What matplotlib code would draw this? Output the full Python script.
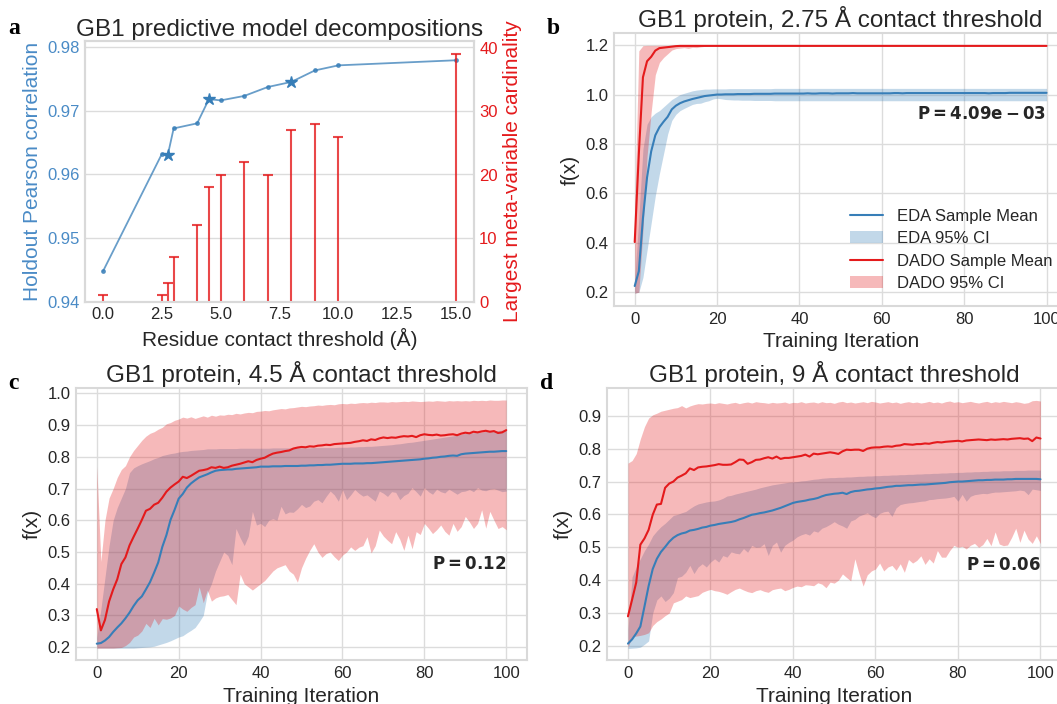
import matplotlib
matplotlib.use('Agg')
import matplotlib.pyplot as plt
import numpy as np
from matplotlib.lines import Line2D
from matplotlib.patches import Patch

plt.style.use('seaborn-v0_8-whitegrid')
plt.rcParams['font.family'] = ['Liberation Sans', 'DejaVu Sans']
plt.rcParams['text.color'] = '.15'
plt.rcParams['axes.labelcolor'] = '.15'
plt.rcParams['xtick.color'] = '.15'
plt.rcParams['ytick.color'] = '.15'

BLUE = '#377eb8'
RED = '#e41a1c'

# ---- panel a: model decompositions ----
thresholds = [0.0, 2.5, 2.75, 3.0, 4.0, 4.5, 5.0, 6.0, 7.0, 8.0, 9.0, 10.0, 15.0]
pearson = [0.9448, 0.9632, 0.9630, 0.9672, 0.9680, 0.9718, 0.9716, 0.9723,
           0.9737, 0.9745, 0.9763, 0.9771, 0.9779]
cardinality = [1, 1, 3, 7, 12, 18, 20, 22, 20, 27, 28, 26, 39]
starred = [2.75, 4.5, 8.0]

# ---- panel b: 2.75 A ----
b_eda_mean = [0.225, 0.285, 0.500, 0.665, 0.770, 0.835, 0.868, 0.890, 0.910, 0.940,
              0.955, 0.965, 0.972, 0.977, 0.982, 0.986, 0.990, 0.994, 0.996, 0.998,
              1.000, 1.000, 1.001, 1.001, 1.001, 1.002, 1.002, 1.002, 1.002, 1.003,
              1.003, 1.003, 1.003, 1.003, 1.004, 1.004, 1.004, 1.004, 1.004, 1.004,
              1.004, 1.004, 1.005, 1.004, 1.004, 1.005, 1.005, 1.005, 1.004, 1.005,
              1.005, 1.005, 1.005, 1.006, 1.005, 1.005, 1.005, 1.005, 1.005, 1.005,
              1.005, 1.005, 1.005, 1.006, 1.006, 1.005, 1.006, 1.006, 1.006, 1.006,
              1.006, 1.006, 1.006, 1.006, 1.006, 1.006, 1.006, 1.006, 1.006, 1.006,
              1.006, 1.006, 1.006, 1.006, 1.006, 1.006, 1.005, 1.006, 1.006, 1.006,
              1.006, 1.007, 1.007, 1.007, 1.007, 1.007, 1.007, 1.007, 1.007, 1.007, 1.007]
b_eda_low = [0.196, 0.200, 0.260, 0.370, 0.480, 0.590, 0.680, 0.760, 0.840, 0.895,
             0.920, 0.935, 0.944, 0.952, 0.960, 0.964, 0.965, 0.971, 0.975, 0.982,
             0.985, 0.983, 0.980, 0.979, 0.978, 0.978, 0.977, 0.977, 0.977, 0.976,
             0.976, 0.976, 0.976, 0.976, 0.975, 0.975, 0.975, 0.975, 0.975, 0.975,
             0.975, 0.975, 0.975, 0.975, 0.975, 0.975, 0.975, 0.975, 0.975, 0.975,
             0.975, 0.975, 0.975, 0.975, 0.975, 0.975, 0.975, 0.975, 0.975, 0.975,
             0.975, 0.975, 0.975, 0.975, 0.975, 0.975, 0.975, 0.975, 0.975, 0.975,
             0.975, 0.975, 0.975, 0.975, 0.975, 0.975, 0.975, 0.975, 0.975, 0.975,
             0.975, 0.975, 0.975, 0.975, 0.975, 0.975, 0.975, 0.975, 0.975, 0.975,
             0.975, 0.975, 0.975, 0.975, 0.975, 0.975, 0.975, 0.975, 0.975, 0.975, 0.975]
b_eda_high = [0.250, 0.500, 0.780, 0.880, 0.910, 0.925, 0.935, 0.950, 0.965, 0.980,
              0.990, 1.000, 1.005, 1.010, 1.015, 1.018, 1.020, 1.022, 1.022, 1.023,
              1.023, 1.023, 1.023, 1.024, 1.024, 1.024, 1.024, 1.024, 1.024, 1.024,
              1.024, 1.024, 1.024, 1.024, 1.025, 1.025, 1.025, 1.025, 1.025, 1.025,
              1.025, 1.025, 1.025, 1.025, 1.025, 1.025, 1.025, 1.025, 1.025, 1.025,
              1.025, 1.025, 1.025, 1.025, 1.025, 1.025, 1.025, 1.025, 1.025, 1.025,
              1.025, 1.025, 1.025, 1.025, 1.025, 1.025, 1.025, 1.025, 1.025, 1.025,
              1.025, 1.025, 1.025, 1.025, 1.025, 1.025, 1.025, 1.025, 1.025, 1.025,
              1.025, 1.025, 1.025, 1.025, 1.025, 1.025, 1.025, 1.025, 1.025, 1.025,
              1.025, 1.025, 1.025, 1.025, 1.025, 1.025, 1.025, 1.025, 1.025, 1.025, 1.025]
b_dado_mean = [0.403, 0.760, 1.070, 1.135, 1.153, 1.178, 1.188, 1.190, 1.192, 1.194,
               1.196, 1.197, 1.197, 1.197, 1.197, 1.197, 1.197, 1.197, 1.197, 1.197,
               1.197, 1.197, 1.197, 1.197, 1.197, 1.197, 1.197, 1.197, 1.197, 1.197,
               1.197, 1.197, 1.197, 1.197, 1.197, 1.197, 1.197, 1.197, 1.197, 1.197,
               1.197, 1.197, 1.197, 1.197, 1.197, 1.197, 1.197, 1.197, 1.197, 1.197,
               1.197, 1.197, 1.197, 1.197, 1.197, 1.197, 1.197, 1.197, 1.197, 1.197,
               1.197, 1.197, 1.197, 1.197, 1.197, 1.197, 1.197, 1.197, 1.197, 1.197,
               1.197, 1.197, 1.197, 1.197, 1.197, 1.197, 1.197, 1.197, 1.197, 1.197,
               1.197, 1.197, 1.197, 1.197, 1.197, 1.197, 1.197, 1.197, 1.197, 1.197,
               1.197, 1.197, 1.197, 1.197, 1.197, 1.197, 1.197, 1.197, 1.197, 1.197, 1.197]
b_dado_low = [0.196, 0.200, 0.450, 0.750, 0.930, 1.080, 1.130, 1.150, 1.165, 1.180,
              1.186, 1.188, 1.190, 1.187, 1.191, 1.190, 1.193, 1.195, 1.197, 1.198,
              1.198, 1.198, 1.198, 1.198, 1.198, 1.198, 1.198, 1.198, 1.198, 1.198,
              1.198, 1.198, 1.198, 1.198, 1.198, 1.198, 1.198, 1.198, 1.198, 1.198,
              1.198, 1.198, 1.198, 1.198, 1.198, 1.198, 1.198, 1.198, 1.198, 1.198,
              1.198, 1.198, 1.198, 1.198, 1.198, 1.198, 1.198, 1.198, 1.198, 1.198,
              1.198, 1.198, 1.198, 1.198, 1.198, 1.198, 1.198, 1.198, 1.198, 1.198,
              1.198, 1.198, 1.198, 1.198, 1.198, 1.198, 1.198, 1.198, 1.198, 1.198,
              1.198, 1.198, 1.198, 1.198, 1.198, 1.198, 1.198, 1.198, 1.198, 1.198,
              1.198, 1.198, 1.198, 1.198, 1.198, 1.198, 1.198, 1.198, 1.198, 1.198, 1.198]
b_dado_high = [0.550, 1.177, 1.198, 1.199, 1.199, 1.199, 1.199, 1.199, 1.199, 1.199,
               1.199, 1.199, 1.199, 1.199, 1.199, 1.199, 1.199, 1.199, 1.199, 1.199,
               1.199, 1.199, 1.199, 1.199, 1.199, 1.199, 1.199, 1.199, 1.199, 1.199,
               1.199, 1.199, 1.199, 1.199, 1.199, 1.199, 1.199, 1.199, 1.199, 1.199,
               1.199, 1.199, 1.199, 1.199, 1.199, 1.199, 1.199, 1.199, 1.199, 1.199,
               1.199, 1.199, 1.199, 1.199, 1.199, 1.199, 1.199, 1.199, 1.199, 1.199,
               1.199, 1.199, 1.199, 1.199, 1.199, 1.199, 1.199, 1.199, 1.199, 1.199,
               1.199, 1.199, 1.199, 1.199, 1.199, 1.199, 1.199, 1.199, 1.199, 1.199,
               1.199, 1.199, 1.199, 1.199, 1.199, 1.199, 1.199, 1.199, 1.199, 1.199,
               1.199, 1.199, 1.199, 1.199, 1.199, 1.199, 1.199, 1.199, 1.199, 1.199, 1.199]

# ---- panel c: 4.5 A ----
c_eda_mean = [0.211, 0.213, 0.221, 0.232, 0.248, 0.262, 0.275, 0.291, 0.309, 0.330,
              0.348, 0.360, 0.382, 0.405, 0.435, 0.467, 0.516, 0.553, 0.601, 0.633,
              0.668, 0.683, 0.703, 0.716, 0.726, 0.735, 0.740, 0.745, 0.751, 0.756,
              0.758, 0.759, 0.760, 0.760, 0.762, 0.763, 0.764, 0.765, 0.766, 0.767,
              0.769, 0.769, 0.769, 0.770, 0.770, 0.770, 0.771, 0.771, 0.771, 0.771,
              0.772, 0.772, 0.773, 0.773, 0.774, 0.774, 0.775, 0.775, 0.776, 0.777,
              0.778, 0.778, 0.778, 0.779, 0.779, 0.779, 0.780, 0.780, 0.781, 0.782,
              0.783, 0.784, 0.785, 0.786, 0.787, 0.788, 0.789, 0.790, 0.791, 0.792,
              0.794, 0.795, 0.797, 0.798, 0.800, 0.801, 0.803, 0.804, 0.803, 0.808,
              0.810, 0.811, 0.812, 0.813, 0.814, 0.815, 0.816, 0.816, 0.817, 0.818, 0.818]
c_eda_low = [0.197, 0.197, 0.197, 0.197, 0.197, 0.197, 0.197, 0.197, 0.197, 0.197,
             0.198, 0.199, 0.200, 0.201, 0.203, 0.207, 0.211, 0.215, 0.220, 0.226,
             0.232, 0.236, 0.245, 0.253, 0.262, 0.280, 0.300, 0.370, 0.400, 0.440,
             0.470, 0.500, 0.489, 0.460, 0.574, 0.545, 0.520, 0.550, 0.628, 0.585,
             0.590, 0.580, 0.600, 0.605, 0.600, 0.644, 0.620, 0.626, 0.625, 0.636,
             0.650, 0.640, 0.645, 0.660, 0.665, 0.655, 0.675, 0.692, 0.680, 0.660,
             0.697, 0.665, 0.680, 0.697, 0.685, 0.676, 0.680, 0.670, 0.660, 0.692,
             0.685, 0.675, 0.690, 0.688, 0.665, 0.678, 0.685, 0.703, 0.690, 0.676,
             0.703, 0.690, 0.682, 0.698, 0.690, 0.686, 0.698, 0.690, 0.682, 0.690,
             0.692, 0.697, 0.690, 0.703, 0.695, 0.693, 0.698, 0.700, 0.695, 0.690, 0.692]
c_eda_high = [0.230, 0.320, 0.420, 0.520, 0.600, 0.640, 0.670, 0.700, 0.750, 0.765,
              0.772, 0.778, 0.783, 0.788, 0.794, 0.798, 0.804, 0.807, 0.810, 0.812,
              0.815, 0.817, 0.818, 0.820, 0.821, 0.822, 0.823, 0.825, 0.825, 0.825,
              0.826, 0.826, 0.826, 0.826, 0.826, 0.827, 0.827, 0.827, 0.827, 0.827,
              0.827, 0.827, 0.827, 0.828, 0.828, 0.828, 0.828, 0.828, 0.828, 0.828,
              0.828, 0.828, 0.828, 0.829, 0.829, 0.829, 0.829, 0.829, 0.829, 0.830,
              0.830, 0.830, 0.831, 0.831, 0.832, 0.832, 0.833, 0.833, 0.834, 0.835,
              0.836, 0.837, 0.838, 0.840, 0.841, 0.843, 0.845, 0.846, 0.848, 0.850,
              0.852, 0.854, 0.856, 0.858, 0.860, 0.862, 0.864, 0.866, 0.868, 0.871,
              0.874, 0.875, 0.876, 0.877, 0.878, 0.880, 0.881, 0.882, 0.883, 0.884, 0.884]
c_dado_mean = [0.320, 0.253, 0.286, 0.344, 0.382, 0.414, 0.462, 0.483, 0.521, 0.548,
               0.574, 0.601, 0.630, 0.636, 0.649, 0.655, 0.671, 0.690, 0.703, 0.713,
               0.722, 0.737, 0.733, 0.740, 0.748, 0.756, 0.758, 0.761, 0.767, 0.765,
               0.769, 0.765, 0.767, 0.772, 0.775, 0.778, 0.782, 0.786, 0.783, 0.790,
               0.794, 0.797, 0.804, 0.810, 0.813, 0.815, 0.818, 0.820, 0.826, 0.829,
               0.831, 0.830, 0.833, 0.832, 0.835, 0.836, 0.838, 0.837, 0.840, 0.841,
               0.842, 0.843, 0.844, 0.847, 0.849, 0.852, 0.850, 0.855, 0.853, 0.858,
               0.861, 0.859, 0.861, 0.860, 0.863, 0.865, 0.864, 0.866, 0.862, 0.868,
               0.871, 0.869, 0.868, 0.870, 0.867, 0.868, 0.870, 0.871, 0.868, 0.873,
               0.876, 0.874, 0.879, 0.877, 0.880, 0.882, 0.879, 0.881, 0.875, 0.877, 0.884]
c_dado_low = [0.197, 0.197, 0.197, 0.197, 0.197, 0.198, 0.199, 0.205, 0.215, 0.232,
              0.238, 0.251, 0.275, 0.262, 0.291, 0.270, 0.290, 0.288, 0.292, 0.300,
              0.330, 0.320, 0.313, 0.325, 0.334, 0.390, 0.340, 0.380, 0.345, 0.355,
              0.360, 0.362, 0.366, 0.350, 0.334, 0.430, 0.400, 0.390, 0.380, 0.390,
              0.400, 0.410, 0.425, 0.440, 0.450, 0.455, 0.460, 0.440, 0.430, 0.405,
              0.450, 0.480, 0.505, 0.526, 0.500, 0.483, 0.495, 0.500, 0.485, 0.473,
              0.490, 0.500, 0.516, 0.505, 0.515, 0.520, 0.548, 0.497, 0.520, 0.569,
              0.550, 0.537, 0.526, 0.564, 0.540, 0.505, 0.553, 0.510, 0.564, 0.555,
              0.590, 0.575, 0.558, 0.570, 0.585, 0.565, 0.553, 0.590, 0.565, 0.580,
              0.612, 0.595, 0.574, 0.590, 0.633, 0.575, 0.628, 0.600, 0.574, 0.580, 0.570]
c_dado_high = [0.770, 0.470, 0.600, 0.670, 0.700, 0.735, 0.760, 0.772, 0.800, 0.820,
               0.836, 0.852, 0.865, 0.874, 0.879, 0.887, 0.893, 0.904, 0.908, 0.915,
               0.919, 0.925, 0.922, 0.926, 0.921, 0.925, 0.929, 0.925, 0.931, 0.928,
               0.932, 0.931, 0.934, 0.933, 0.937, 0.935, 0.938, 0.940, 0.939, 0.943,
               0.944, 0.946, 0.945, 0.948, 0.950, 0.952, 0.951, 0.954, 0.955, 0.957,
               0.959, 0.958, 0.960, 0.961, 0.963, 0.962, 0.964, 0.965, 0.964, 0.967,
               0.968, 0.967, 0.969, 0.968, 0.970, 0.971, 0.970, 0.972, 0.971, 0.973,
               0.973, 0.972, 0.974, 0.973, 0.974, 0.975, 0.974, 0.976, 0.975, 0.974,
               0.975, 0.976, 0.975, 0.977, 0.976, 0.975, 0.977, 0.976, 0.977, 0.976,
               0.977, 0.976, 0.978, 0.977, 0.978, 0.977, 0.979, 0.978, 0.978, 0.979, 0.979]

# ---- panel d: 9 A ----
d_eda_mean = [0.207, 0.220, 0.238, 0.259, 0.320, 0.382, 0.434, 0.465, 0.486, 0.501,
              0.517, 0.529, 0.537, 0.542, 0.545, 0.551, 0.553, 0.556, 0.560, 0.562,
              0.566, 0.568, 0.571, 0.573, 0.575, 0.577, 0.580, 0.585, 0.589, 0.594,
              0.599, 0.601, 0.604, 0.606, 0.609, 0.612, 0.616, 0.620, 0.625, 0.630,
              0.635, 0.638, 0.640, 0.642, 0.645, 0.647, 0.650, 0.655, 0.659, 0.661,
              0.663, 0.664, 0.666, 0.662, 0.668, 0.671, 0.672, 0.674, 0.676, 0.677,
              0.679, 0.680, 0.682, 0.684, 0.685, 0.687, 0.687, 0.688, 0.689, 0.689,
              0.690, 0.691, 0.691, 0.692, 0.693, 0.694, 0.695, 0.696, 0.698, 0.699,
              0.700, 0.700, 0.701, 0.702, 0.703, 0.704, 0.704, 0.705, 0.705, 0.706,
              0.706, 0.706, 0.707, 0.707, 0.708, 0.708, 0.708, 0.708, 0.708, 0.708, 0.707]
d_eda_low = [0.192, 0.193, 0.194, 0.196, 0.205, 0.215, 0.300, 0.340, 0.352, 0.335,
             0.345, 0.362, 0.408, 0.412, 0.424, 0.445, 0.420, 0.440, 0.450, 0.440,
             0.455, 0.465, 0.455, 0.475, 0.470, 0.486, 0.482, 0.480, 0.496, 0.485,
             0.506, 0.500, 0.501, 0.511, 0.475, 0.506, 0.516, 0.485, 0.506, 0.515,
             0.522, 0.532, 0.538, 0.542, 0.537, 0.550, 0.546, 0.558, 0.563, 0.570,
             0.578, 0.570, 0.565, 0.558, 0.580, 0.585, 0.595, 0.600, 0.605, 0.596,
             0.590, 0.603, 0.608, 0.610, 0.594, 0.620, 0.630, 0.633, 0.635, 0.636,
             0.638, 0.640, 0.641, 0.645, 0.646, 0.648, 0.649, 0.650, 0.652, 0.655,
             0.640, 0.661, 0.640, 0.655, 0.660, 0.662, 0.664, 0.663, 0.666, 0.668,
             0.668, 0.669, 0.670, 0.671, 0.672, 0.674, 0.672, 0.660, 0.677, 0.675, 0.673]
d_eda_high = [0.250, 0.410, 0.440, 0.465, 0.490, 0.510, 0.535, 0.550, 0.563, 0.573,
              0.585, 0.597, 0.600, 0.605, 0.609, 0.618, 0.626, 0.632, 0.635, 0.638,
              0.640, 0.641, 0.644, 0.649, 0.656, 0.658, 0.662, 0.665, 0.668, 0.671,
              0.674, 0.677, 0.681, 0.684, 0.687, 0.690, 0.692, 0.694, 0.696, 0.698,
              0.699, 0.700, 0.702, 0.703, 0.705, 0.707, 0.708, 0.710, 0.711, 0.712,
              0.712, 0.713, 0.713, 0.714, 0.714, 0.715, 0.716, 0.716, 0.717, 0.717,
              0.718, 0.718, 0.719, 0.719, 0.720, 0.720, 0.721, 0.721, 0.722, 0.722,
              0.723, 0.723, 0.724, 0.724, 0.725, 0.725, 0.726, 0.726, 0.727, 0.727,
              0.728, 0.728, 0.729, 0.729, 0.730, 0.730, 0.731, 0.731, 0.732, 0.732,
              0.732, 0.733, 0.733, 0.733, 0.734, 0.734, 0.734, 0.735, 0.735, 0.735, 0.735]
d_dado_mean = [0.290, 0.341, 0.393, 0.508, 0.527, 0.553, 0.599, 0.630, 0.632, 0.681,
               0.694, 0.700, 0.712, 0.718, 0.725, 0.740, 0.735, 0.743, 0.745, 0.746,
               0.748, 0.750, 0.753, 0.751, 0.751, 0.752, 0.759, 0.767, 0.766, 0.754,
               0.759, 0.766, 0.767, 0.771, 0.774, 0.770, 0.776, 0.769, 0.772, 0.772,
               0.774, 0.776, 0.778, 0.782, 0.776, 0.785, 0.783, 0.785, 0.787, 0.789,
               0.787, 0.784, 0.792, 0.797, 0.796, 0.797, 0.797, 0.793, 0.800, 0.803,
               0.804, 0.804, 0.806, 0.807, 0.806, 0.809, 0.810, 0.814, 0.813, 0.812,
               0.814, 0.814, 0.816, 0.815, 0.818, 0.820, 0.819, 0.821, 0.822, 0.823,
               0.824, 0.822, 0.825, 0.826, 0.827, 0.828, 0.827, 0.826, 0.828, 0.827,
               0.828, 0.829, 0.828, 0.830, 0.831, 0.832, 0.830, 0.831, 0.823, 0.834, 0.831]
d_dado_low = [0.196, 0.228, 0.230, 0.232, 0.235, 0.240, 0.262, 0.274, 0.282, 0.292,
              0.300, 0.331, 0.336, 0.341, 0.352, 0.347, 0.350, 0.353, 0.363, 0.368,
              0.372, 0.368, 0.366, 0.362, 0.357, 0.365, 0.372, 0.376, 0.370, 0.365,
              0.362, 0.368, 0.371, 0.366, 0.363, 0.371, 0.374, 0.376, 0.368, 0.372,
              0.378, 0.382, 0.380, 0.386, 0.385, 0.383, 0.392, 0.388, 0.377, 0.394,
              0.391, 0.400, 0.419, 0.408, 0.398, 0.465, 0.420, 0.382, 0.416, 0.428,
              0.434, 0.452, 0.428, 0.440, 0.445, 0.430, 0.450, 0.424, 0.463, 0.452,
              0.460, 0.474, 0.448, 0.465, 0.452, 0.490, 0.470, 0.470, 0.490, 0.506,
              0.500, 0.503, 0.495, 0.506, 0.512, 0.500, 0.508, 0.527, 0.505, 0.547,
              0.510, 0.505, 0.507, 0.530, 0.558, 0.515, 0.552, 0.525, 0.512, 0.535, 0.511]
d_dado_high = [0.756, 0.764, 0.785, 0.830, 0.867, 0.893, 0.903, 0.908, 0.914, 0.917,
               0.920, 0.923, 0.925, 0.931, 0.924, 0.930, 0.934, 0.937, 0.936, 0.938,
               0.939, 0.937, 0.940, 0.938, 0.936, 0.939, 0.941, 0.937, 0.940, 0.942,
               0.939, 0.943, 0.941, 0.940, 0.938, 0.941, 0.939, 0.940, 0.942, 0.938,
               0.941, 0.940, 0.943, 0.939, 0.941, 0.942, 0.939, 0.943, 0.940, 0.941,
               0.938, 0.942, 0.944, 0.940, 0.942, 0.939, 0.941, 0.943, 0.940, 0.944,
               0.942, 0.939, 0.941, 0.943, 0.940, 0.942, 0.938, 0.941, 0.943, 0.940,
               0.942, 0.939, 0.941, 0.944, 0.940, 0.942, 0.939, 0.943, 0.945, 0.941,
               0.943, 0.940, 0.942, 0.944, 0.941, 0.939, 0.942, 0.944, 0.940, 0.943,
               0.941, 0.944, 0.942, 0.940, 0.943, 0.941, 0.938, 0.940, 0.946, 0.947, 0.945]

iters = np.arange(len(b_eda_mean))

fig = plt.figure(figsize=(10.57, 7.04), dpi=100)


def style_axes(ax):
    for sp in ax.spines.values():
        sp.set_color('#d9d9d9')
        sp.set_linewidth(1.5)
    ax.grid(True, color='#dcdcdc', linewidth=1.0)
    ax.tick_params(labelsize=12, length=0, pad=4)


def trace_panel(ax, title, eda, dado, ylim, yticks, ptext, py, legend=False):
    eda_mean, eda_low, eda_high = eda
    dado_mean, dado_low, dado_high = dado
    ax.fill_between(iters, eda_low, eda_high, color=BLUE, alpha=0.3, linewidth=0)
    ax.fill_between(iters, dado_low, dado_high, color=RED, alpha=0.3, linewidth=0)
    ax.plot(iters, eda_mean, color=BLUE, lw=1.5)
    ax.plot(iters, dado_mean, color=RED, lw=1.5)
    style_axes(ax)
    ax.set_xlim(-5, 105)
    ax.set_ylim(*ylim)
    ax.set_xticks([0, 20, 40, 60, 80, 100])
    ax.set_yticks(yticks)
    ax.set_title(title, fontsize=17.5, pad=4)
    ax.set_xlabel('Training Iteration', fontsize=15)
    ax.set_ylabel('f(x)', fontsize=15)
    ax.text(100, py, ptext, ha='right', va='center', fontsize=12)
    if legend:
        handles = [Line2D([], [], color=BLUE, lw=1.5),
                   Patch(facecolor=BLUE, alpha=0.3, linewidth=0),
                   Line2D([], [], color=RED, lw=1.5),
                   Patch(facecolor=RED, alpha=0.3, linewidth=0)]
        labels = ['EDA Sample Mean', 'EDA 95% CI', 'DADO Sample Mean', 'DADO 95% CI']
        ax.legend(handles, labels, loc='lower right', fontsize=12, frameon=False,
                  handlelength=2.0, labelspacing=0.45)


# panel a
ax_a = fig.add_axes([0.0808, 0.5714, 0.3673, 0.3697])
ax_a2 = ax_a.twinx()
ax_a.plot(thresholds, pearson, color=BLUE, alpha=0.75, lw=1.3, marker='.', ms=5)
star_y = [p for t, p in zip(thresholds, pearson) if t in starred]
ax_a.plot(starred, star_y, linestyle='none', marker='*', ms=9, color=BLUE)
ax_a2.vlines(thresholds, 0, cardinality, color=RED, alpha=0.8, lw=1.5)
ax_a2.plot(thresholds, cardinality, linestyle='none', marker='_', ms=7, mew=1.5,
           color=RED, alpha=0.8)
style_axes(ax_a)
ax_a.xaxis.grid(False)
ax_a2.grid(False)
for sp in ax_a2.spines.values():
    sp.set_color('#d9d9d9')
    sp.set_linewidth(1.5)
ax_a.set_xlim(-0.75, 15.75)
ax_a.set_ylim(0.94, 0.98085)
ax_a.set_yticks([0.94, 0.95, 0.96, 0.97, 0.98])
ax_a2.set_ylim(0, 40.96)
ax_a2.set_yticks([0, 10, 20, 30, 40])
ax_a.tick_params(axis='y', colors='#4a8bc6')
ax_a2.tick_params(axis='y', colors=RED, labelsize=12, length=0, pad=4)
ax_a.set_title('GB1 predictive model decompositions', fontsize=17.5, pad=4)
ax_a.set_xlabel('Residue contact threshold (Å)', fontsize=15)
ax_a.set_ylabel('Holdout Pearson correlation', fontsize=15, color='#4a8bc6')
ax_a2.set_ylabel('Largest meta-variable cardinality', fontsize=15, color=RED)

# panel b
ax_b = fig.add_axes([0.581, 0.5652, 0.4286, 0.388])
trace_panel(ax_b, 'GB1 protein, 2.75 Å contact threshold',
            (b_eda_mean, b_eda_low, b_eda_high), (b_dado_mean, b_dado_low, b_dado_high),
            (0.1437, 1.2494), [0.2, 0.4, 0.6, 0.8, 1.0, 1.2],
            r'$\mathbf{P = 4.09e-03}$', 0.923, legend=True)

# panel c
ax_c = fig.add_axes([0.0722, 0.0618, 0.4261, 0.3876])
trace_panel(ax_c, 'GB1 protein, 4.5 Å contact threshold',
            (c_eda_mean, c_eda_low, c_eda_high), (c_dado_mean, c_dado_low, c_dado_high),
            (0.158, 1.018), [0.2, 0.3, 0.4, 0.5, 0.6, 0.7, 0.8, 0.9, 1.0],
            r'$\mathbf{P = 0.12}$', 0.463)

# panel d
ax_d = fig.add_axes([0.5746, 0.0618, 0.4293, 0.3876])
trace_panel(ax_d, 'GB1 protein, 9 Å contact threshold',
            (d_eda_mean, d_eda_low, d_eda_high), (d_dado_mean, d_dado_low, d_dado_high),
            (0.1556, 0.9858), [0.2, 0.3, 0.4, 0.5, 0.6, 0.7, 0.8, 0.9],
            r'$\mathbf{P = 0.06}$', 0.449)

# panel letters
for letter, x, y in [('a', 8, 34), ('b', 547, 34), ('c', 8, 389), ('d', 540, 389)]:
    fig.text(x / 1057, 1 - y / 704, letter, fontsize=17, fontweight='bold',
             family='Liberation Serif', color='black', va='baseline')

fig.savefig('out.png', dpi=100)
